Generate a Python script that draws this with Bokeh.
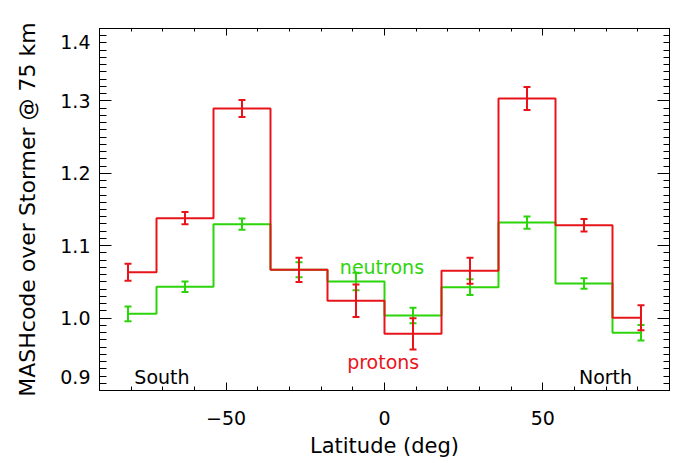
from bokeh.plotting import figure
from bokeh.models import (LinearAxis, SingleIntervalTicker, CustomJSTickFormatter,
                          Whisker, TeeHead, ColumnDataSource, Label, Range1d)
from bokeh.embed import file_html
from bokeh.resources import INLINE

# ---- data ----
latitude = [-81, -63, -45, -27, -9, 9, 27, 45, 63, 81]
protons = [1.0634, 1.1380, 1.2895, 1.0667, 1.0239, 0.9783, 1.0653, 1.3033, 1.1283, 1.0004]
protons_err = [0.0117, 0.0085, 0.0117, 0.0168, 0.0224, 0.0216, 0.0180, 0.0159, 0.0086, 0.0173]
neutrons = [1.0059, 1.0432, 1.1297, 1.0667, 1.0506, 1.0036, 1.0427, 1.1320, 1.0478, 0.9797]
neutrons_err = [0.0101, 0.0072, 0.0078, 0.0104, 0.0120, 0.0108, 0.0108, 0.0085, 0.0071, 0.0106]
x_limits = [-90, 90]
y_limits = [0.9, 1.4]
x_label = "Latitude (deg)"
y_label = "MASHcode over Stormer @ 75 km"

FONT = "DejaVu Sans"
RED = "#e8141a"
GREEN = "#2cd40a"
TICK_FS = "19px"

p = figure(width=672, height=463,
           x_range=Range1d(*x_limits),
           # tiny epsilon so the 1.4 tick (14 * 0.1) is not dropped by rounding
           y_range=Range1d(y_limits[0], y_limits[1] + 1e-9),
           output_backend="svg", toolbar_location=None,
           min_border_left=99, min_border_right=3, min_border_top=28, min_border_bottom=73,
           x_axis_label=x_label, y_axis_label=y_label)
p.xgrid.visible = False
p.ygrid.visible = False
p.outline_line_color = "black"
p.background_fill_color = "white"
p.border_fill_color = "white"

xticker = SingleIntervalTicker(interval=50, num_minor_ticks=5)
yticker = SingleIntervalTicker(interval=0.1, num_minor_ticks=10)


def style_axis(ax, major_in, minor_in):
    ax.axis_line_color = "black"
    ax.axis_line_width = 1
    ax.major_tick_line_color = "black"
    ax.minor_tick_line_color = "black"
    ax.major_tick_in = major_in
    ax.major_tick_out = 0
    ax.minor_tick_in = minor_in
    ax.minor_tick_out = 0
    ax.major_label_text_font = FONT
    ax.major_label_text_font_size = TICK_FS
    ax.major_label_text_color = "black"
    ax.axis_label_text_font = FONT
    ax.axis_label_text_font_style = "normal"
    ax.axis_label_text_color = "black"


xa = p.below[0]
xa.ticker = xticker
style_axis(xa, 8, 4)
xa.major_label_standoff = 20
xa.major_label_overrides = {-50: "\u221250"}
xa.axis_label_text_font_size = "21px"
xa.axis_label_standoff = 6

ya = p.left[0]
ya.ticker = yticker
# end labels are nudged inside the box, as in the reference
ya.formatter = CustomJSTickFormatter(code="""
    const s = tick.toFixed(1);
    if (s == "1.4") return "\\n" + s;
    if (s == "0.9") return s + "\\n";
    return s;
""")
style_axis(ya, 12, 7)
ya.major_label_standoff = 9
ya.axis_label_text_font_size = "22px"
ya.axis_label_standoff = 17

blank = CustomJSTickFormatter(code="return '';")

top = LinearAxis(ticker=xticker, formatter=blank)
style_axis(top, 7, 3)
p.add_layout(top, "above")

right = LinearAxis(ticker=yticker, formatter=blank)
style_axis(right, 12, 6)
p.add_layout(right, "right")

# ---- data ----
src_n = ColumnDataSource(dict(x=latitude, y=neutrons,
                              lo=[v - e for v, e in zip(neutrons, neutrons_err)],
                              hi=[v + e for v, e in zip(neutrons, neutrons_err)]))
src_p = ColumnDataSource(dict(x=latitude, y=protons,
                              lo=[v - e for v, e in zip(protons, protons_err)],
                              hi=[v + e for v, e in zip(protons, protons_err)]))

p.step("x", "y", source=src_n, mode="center", line_color=GREEN, line_width=2)
p.add_layout(Whisker(base="x", upper="hi", lower="lo", source=src_n, level="overlay",
                     line_color=GREEN, line_width=2,
                     upper_head=TeeHead(size=7, line_color=GREEN, line_width=2),
                     lower_head=TeeHead(size=7, line_color=GREEN, line_width=2)))
p.step("x", "y", source=src_p, mode="center", line_color=RED, line_width=2)
p.add_layout(Whisker(base="x", upper="hi", lower="lo", source=src_p, level="overlay",
                     line_color=RED, line_width=2,
                     upper_head=TeeHead(size=7, line_color=RED, line_width=2),
                     lower_head=TeeHead(size=7, line_color=RED, line_width=2)))

# ---- text annotations ----
def add_text(x, y, txt, color, size="19px"):
    p.add_layout(Label(x=x, y=y, text=txt, text_color=color, text_font=FONT,
                       text_font_size=size, text_align="left", text_baseline="alphabetic"))

add_text(-79, 0.9193, "South", "black")
add_text(61.4, 0.919, "North", "black")
add_text(-14.1, 1.0703, "neutrons", GREEN)
add_text(-11.8, 0.939, "protons", RED)

open("out.html", "w").write(file_html(p, INLINE))
